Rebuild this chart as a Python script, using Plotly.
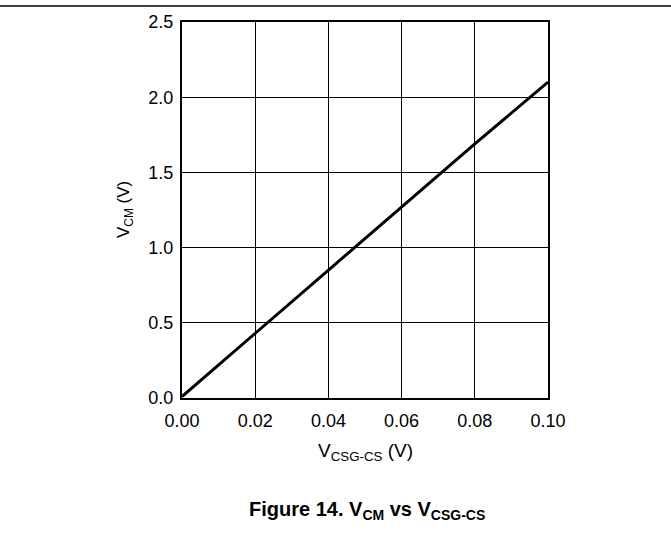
import plotly.graph_objects as go

# Data
vcsg = [0.0, 0.02, 0.04, 0.06, 0.08, 0.10]
vcm = [0.01, 0.43, 0.85, 1.27, 1.69, 2.10]
x_ticks = [0.0, 0.02, 0.04, 0.06, 0.08, 0.10]
x_tick_text = ["0.00", "0.02", "0.04", "0.06", "0.08", "0.10"]
y_ticks = [0.0, 0.5, 1.0, 1.5, 2.0, 2.5]
y_tick_text = ["0.0", "0.5", "1.0", "1.5", "2.0", "2.5"]

W, H = 671, 554
L, R, T, B = 182, 123, 20, 156
pw, ph = W - L - R, H - T - B
FONT = "Liberation Sans, Arial, sans-serif"
FS = 18

fig = go.Figure()
fig.add_trace(go.Scatter(x=vcsg, y=vcm, mode="lines",
                         line=dict(color="black", width=3), showlegend=False,
                         cliponaxis=True))

axis_common = dict(showgrid=True, gridcolor="black", gridwidth=1,
                   showline=True, linecolor="black", linewidth=2, mirror=True,
                   zeroline=False, ticks="", tickfont=dict(family=FONT, size=FS, color="black"))

fig.update_xaxes(range=[0, 0.10], tickvals=x_ticks, ticktext=x_tick_text,
                 ticklabelstandoff=5, **axis_common)
fig.update_yaxes(range=[0, 2.5], tickvals=y_ticks, ticktext=y_tick_text,
                 ticklabelstandoff=3, **axis_common)

fig.add_annotation(xref="paper", yref="paper", x=(365 - L) / pw, y=1 - (452 - T) / ph,
                   xanchor="center", yanchor="middle",
                   text="V<sub>CSG-CS</sub> (V)", showarrow=False,
                   font=dict(family=FONT, size=19, color="black"))
fig.add_annotation(xref="paper", yref="paper", x=(125 - L) / pw, y=1 - (209 - T) / ph,
                   xanchor="center", yanchor="middle",
                   text="V<sub>CM</sub> (V)", showarrow=False, textangle=-90,
                   font=dict(family=FONT, size=17, color="black"))
fig.add_annotation(xref="paper", yref="paper", x=(367 - L) / pw, y=1 - (511 - T) / ph,
                   xanchor="center", yanchor="middle",
                   text="<b>Figure 14. V<sub>CM</sub> vs V<sub>CSG-CS</sub></b>", showarrow=False,
                   font=dict(family=FONT, size=20, color="black"))
fig.add_shape(type="line", xref="paper", yref="paper",
              x0=-L / pw, x1=(W - L) / pw, y0=1 + (T - 4) / ph, y1=1 + (T - 4) / ph,
              line=dict(color="black", width=1.5))

fig.update_layout(width=W, height=H, margin=dict(l=L, r=R, t=T, b=B),
                  plot_bgcolor="white", paper_bgcolor="white",
                  font=dict(family=FONT, color="black"))

fig.write_html("out.html", config={"displayModeBar": False},
               post_script="document.body.style.margin='0px';")
